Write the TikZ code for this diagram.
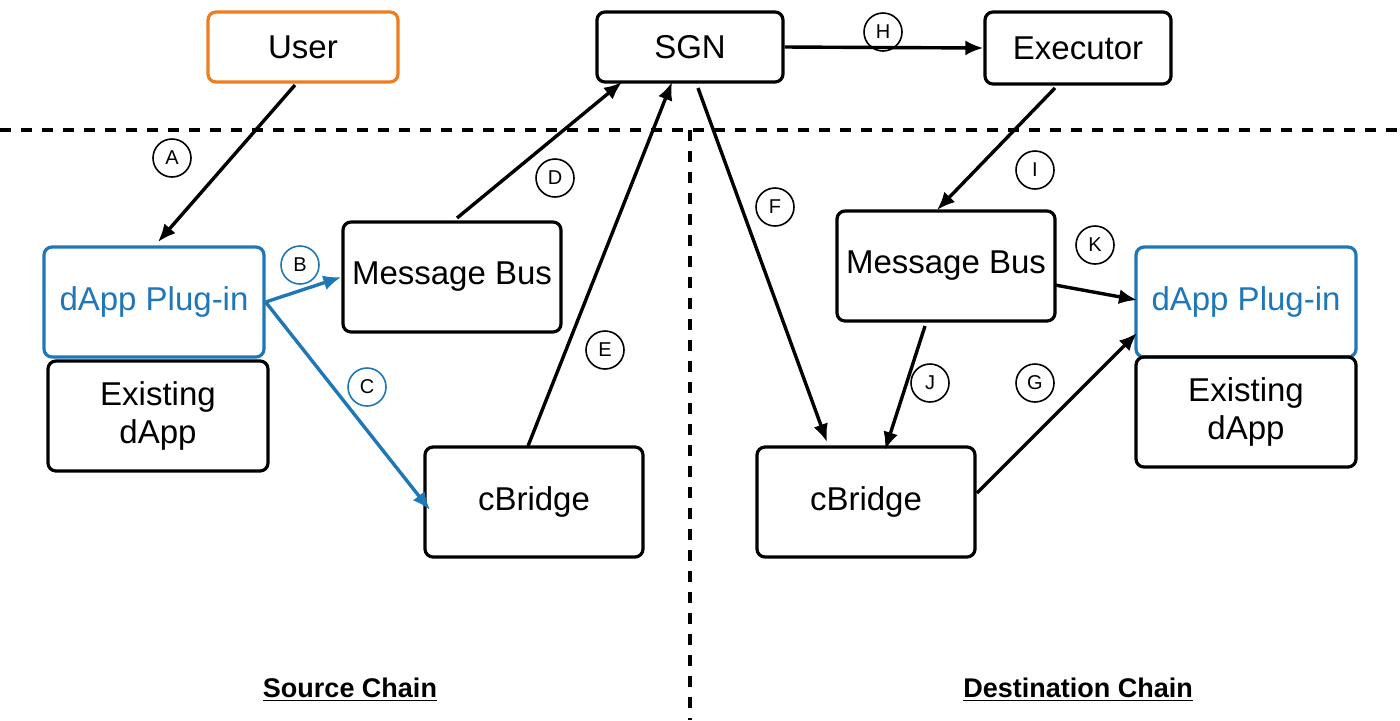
\documentclass[tikz,border=0pt]{standalone}
\usepackage{fontspec}
\setmainfont{Liberation Sans}
\usetikzlibrary{arrows.meta}
\definecolor{org}{HTML}{EE7D1E}
\definecolor{blu}{HTML}{1F77B8}
\begin{document}
\begin{tikzpicture}[x=0.5pt,y=-0.5pt,
 box/.style={draw,line width=1.6pt,rounded corners=4pt,font=\fontsize{16.5}{19}\selectfont,align=center,inner sep=0pt},
 arr/.style={line width=1.7pt,-{Latex[length=9pt,width=7.5pt]}},
 lab/.style={draw,circle,line width=0.8pt,minimum size=19pt,inner sep=0pt,font=\fontsize{10}{11}\selectfont},
 dsh/.style={line width=2.2pt,dash pattern=on 5.5pt off 5pt}]
\useasboundingbox (0,0) rectangle (1400,720);
\node[box,draw=org,minimum width=95pt,minimum height=35pt] (user) at (303,47) {User};
\node[box,minimum width=93pt,minimum height=35pt] (sgn) at (690,47) {SGN};
\node[box,minimum width=93pt,minimum height=36pt] (exe) at (1078,48) {Executor};
\node[box,draw=blu,text=blu,minimum width=110pt,minimum height=55pt] (dpl) at (154,302) {dApp Plug-in};
\node[box,minimum width=110pt,minimum height=55pt] (edl) at (158,416) {Existing\\dApp};
\node[box,minimum width=109pt,minimum height=55pt] (mbl) at (452,277) {Message Bus};
\node[box,minimum width=109pt,minimum height=55pt] (cbl) at (534,502) {cBridge};
\node[box,minimum width=109pt,minimum height=55pt] (mbr) at (946,266) {Message Bus};
\node[box,draw=blu,text=blu,minimum width=110pt,minimum height=55pt] (dpr) at (1246,302) {dApp Plug-in};
\node[box,minimum width=110pt,minimum height=55pt] (edr) at (1246,412) {Existing\\dApp};
\node[box,minimum width=109pt,minimum height=55pt] (cbr) at (866,502) {cBridge};
\draw[dsh] (0,130) -- (1400,130);
\draw[dsh] (690,130) -- (690,720);
\coordinate (a1) at (295,85); \coordinate (a2) at (158,242);
\draw[arr] (a1) -- (a2);
\draw[arr,blu] (dpl.east) -- (mbl.west);
\coordinate (c2) at (430,510);
\draw[arr,blu] (dpl.east) -- (c2);
\coordinate (d1) at (457,218); \coordinate (d2) at (622,82);
\draw[arr] (d1) -- (d2);
\coordinate (e1) at (528,446); \coordinate (e2) at (672,82);
\draw[arr] (e1) -- (e2);
\coordinate (f1) at (698,88); \coordinate (f2) at (827,442);
\draw[arr] (f1) -- (f2);
\draw[arr] (sgn.east) -- (exe.west);
\coordinate (i1) at (1055,88); \coordinate (i2) at (937,210);
\draw[arr] (i1) -- (i2);
\coordinate (j1) at (925,326); \coordinate (j2) at (885,450);
\draw[arr] (j1) -- (j2);
\coordinate (k1) at (1055,285); \coordinate (k2) at (1137,300);
\draw[arr] (k1) -- (k2);
\coordinate (g1) at (977,493); \coordinate (g2) at (1137,333);
\draw[arr] (g1) -- (g2);
\node[lab] (la) at (172,158) {A};
\node[lab,draw=blu] (lb) at (300,265) {B};
\node[lab,draw=blu] (lc) at (367,387) {C};
\node[lab] (ld) at (555,178) {D};
\node[lab] (le) at (605,350) {E};
\node[lab] (lf) at (775,207) {F};
\node[lab] (lg) at (1035,383) {G};
\node[lab] (lh) at (883,32) {H};
\node[lab] (li) at (1035,170) {I};
\node[lab] (lj) at (930,383) {J};
\node[lab] (lk) at (1095,245) {K};
\node[font=\fontsize{13.5}{15}\selectfont\bfseries] (src) at (350,690) {\underline{Source Chain}};
\node[font=\fontsize{13.5}{15}\selectfont\bfseries] (dst) at (1078,690) {\underline{Destination Chain}};
\end{tikzpicture}
\end{document}
